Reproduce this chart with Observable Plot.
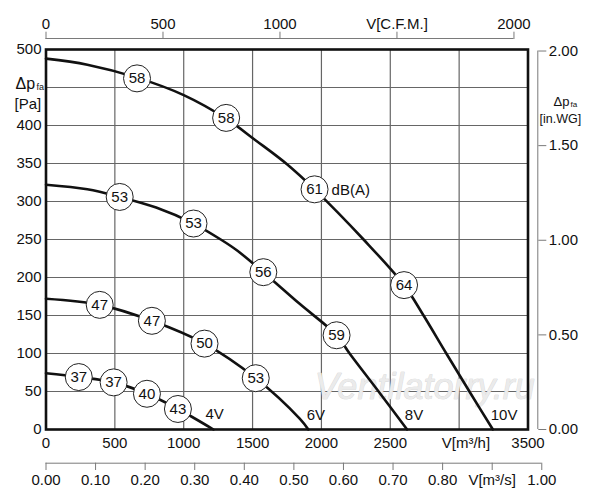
<!DOCTYPE html>
<html><head><meta charset="utf-8">
<script src="https://cdn.jsdelivr.net/npm/d3@7"></script>
<script src="https://cdn.jsdelivr.net/npm/@observablehq/plot@0.6"></script>
<style>body{margin:0;background:#fff}#chart svg{display:block}</style>
</head><body><div id="chart"></div>
<script>
// Fan curves: flow V [m³/h], static pressure Δp_fa [Pa]
const curve4V  = [[0,74],[238,69],[491,62],[733,47],[958,27],[1216,0]];
const curve6V  = [[0,172],[390,164],[769,143],[1151,113],[1523,67.5],[1844,14],[1905,0]];
const curve8V  = [[0,322],[300,316],[535,306],[800,292],[1071,271],[1269,250],[1388,235.5],[1578,207],[1844,165],[2110,124],[2206,99.6],[2419,49],[2622,0]];
const curve10V = [[0,488],[300,480],[661,463],[1000,440],[1308,409],[1526,380],[1750,349],[1950,316],[2306,250],[2600,190],[2735,152],[2907,100],[3078,49],[3245,0]];

// Noise levels dB(A) on curves
const noiseFlow  = [238,491,733,958, 390,769,1151,1523, 535,1071,1578,2110, 661,1308,1950,2600];
const noisePress = [69,62,47,27, 164,143,113,67.5, 306,271,207,124, 462,410,316,190];
const noiseDb    = ["37","37","40","43","47","47","50","53","53","53","56","59","58","58","61","64"];

// Curve name labels
const curveNames = ["4V","6V","8V","10V"];
const curveNameFlow = [1225,1960,2672,3326];
const curveNamePress = [19.7,18.4,18.4,18.4];

// Axis ticks
const xTicks = [0,500,1000,1500,2000,2500,3000,3500];
const yGrid = [0,50,100,150,200,250,300,350,400,450,500];
const yTickLabels = [0,50,100,150,200,250,300,350,400,500];
const cfmTicks = [0,500,1000,1500,2000];
const cfmLabels = ["0","500","1000","V[C.F.M.]","2000"];
const m3sTicks = [0,0.1,0.2,0.3,0.4,0.5,0.6,0.7,0.8,0.9,1.0];
const m3sLabels = ["0.00","0.10","0.20","0.30","0.40","0.50","0.60","0.70","0.80","V[m³/s]","1.00"];
const inwgTicks = [0,0.5,1.0,1.5,2.0];
const inwgLabels = ["0.00","0.50","1.00","1.50","2.00"];

const M3H_PER_CFM = 1.699, M3H_PER_M3S = 3600, PA_PER_INWG = 249;

const series = [];
[["4V",curve4V],["6V",curve6V],["8V",curve8V],["10V",curve10V]].forEach(([k,c]) =>
  c.forEach(([q,p]) => series.push({k,q,p})));
const noise = noiseDb.map((t,i)=>({q:noiseFlow[i],p:noisePress[i],t}));
const names = curveNames.map((t,i)=>({q:curveNameFlow[i],p:curveNamePress[i],t}));

const cfmMap = new Map(cfmTicks.map((c,i)=>[c*M3H_PER_CFM, cfmLabels[i]]));
const m3sMap = new Map(m3sTicks.map((c,i)=>[c*M3H_PER_M3S, m3sLabels[i]]));
const inwgMap = new Map(inwgTicks.map((c,i)=>[c*PA_PER_INWG, inwgLabels[i]]));

const gray = "#7a7a7a";
const chart = Plot.plot({
  width: 600, height: 500,
  marginLeft: 45.5, marginRight: 72.5, marginTop: 49, marginBottom: 71,
  style: {fontFamily: "'Liberation Sans', Arial, sans-serif", fontSize: "15px", color: "#111", background: "#fff"},
  x: {domain: [0,3500]},
  y: {domain: [0,500]},
  marks: [
    Plot.gridX(xTicks, {stroke: "#666", strokeOpacity: 1, strokeWidth: 1.2}),
    Plot.gridY(yGrid, {stroke: "#666", strokeOpacity: 1, strokeWidth: 1.2}),
    Plot.text([{q:2750,p:55,t:"Ventilatorry.ru"}], {x:"q", y:"p", text:"t", fontSize: 36, fontStyle: "italic",
      fill: "#ebebeb", stroke: "#cdcdcd", strokeWidth: 0.6}),
    // left Pa axis
    Plot.axisY(yTickLabels, {anchor: "left", tickSize: 0, tickPadding: 4.5, label: null, fontSize: 15, tickFormat: d=>String(d)}),
    // bottom m³/h axis
    Plot.axisX(xTicks.filter(d=>d!==3000), {anchor: "bottom", tickSize: 0, tickPadding: 7.5, label: null, fontSize: 15, tickFormat: d=>String(d)}),
    Plot.text([{q:3049,t:"V[m³/h]"}], {x:"q", text:"t", frameAnchor: "bottom", lineAnchor: "top", dy: 7.5, fontSize: 15}),
    // top CFM axis
    Plot.ruleY([{p:500}], {y:"p", x1: ()=>0, x2: ()=>2000*M3H_PER_CFM, dy: -11, stroke: gray, strokeWidth: 1}),
    Plot.axisX(cfmTicks.map(c=>c*M3H_PER_CFM), {anchor: "top", dy: -11, tickSize: 7.3, tickPadding: 2,
      tickFormat: d=>cfmMap.get(d), label: null, stroke: gray, fontSize: 15}),
    // bottom m³/s axis
    Plot.ruleY([{p:0}], {y:"p", x1: ()=>0, x2: ()=>1.0*M3H_PER_M3S, dy: 33.7, stroke: gray, strokeWidth: 1}),
    Plot.axisX(m3sTicks.map(c=>c*M3H_PER_M3S), {anchor: "bottom", dy: 33.7, tickSize: 7.3, tickPadding: 3.5,
      tickFormat: d=>m3sMap.get(d), label: null, stroke: gray, fontSize: 15}),
    // right in.WG axis
    Plot.ruleX([{q:3500}], {x:"q", y1: ()=>0, y2: ()=>2*PA_PER_INWG, dx: 9.8, stroke: gray, strokeWidth: 1}),
    Plot.axisY(inwgTicks.map(c=>c*PA_PER_INWG), {anchor: "right", dx: 9.8, tickSize: 8, tickPadding: 3,
      tickFormat: d=>inwgMap.get(d), label: null, stroke: gray, fontSize: 15}),
    // axis titles
    Plot.text(["Δp"], {frameAnchor: "top-left", textAnchor: "start", dx: -30.5, dy: 28, fontSize: 16}),
    Plot.text(["fa"], {frameAnchor: "top-left", textAnchor: "start", dx: -9.5, dy: 34, fontSize: 9}),
    Plot.text(["[Pa]"], {frameAnchor: "top-left", textAnchor: "start", dx: -31.5, dy: 48.5, fontSize: 15}),
    Plot.text(["Δp"], {frameAnchor: "top-right", textAnchor: "start", dx: 25.5, dy: 47, fontSize: 13}),
    Plot.text(["fa"], {frameAnchor: "top-right", textAnchor: "start", dx: 42.5, dy: 51.5, fontSize: 8}),
    Plot.text(["[in.WG]"], {frameAnchor: "top-right", textAnchor: "start", dx: 11.5, dy: 65, fontSize: 12.5}),
    // curves
    Plot.line(series, {x:"q", y:"p", z:"k", curve: "catmull-rom", stroke: "#111", strokeWidth: 2.6}),
    Plot.dot(noise, {x:"q", y:"p", r: 13.5, fill: "#fff", stroke: "#222", strokeWidth: 1}),
    Plot.text(noise, {x:"q", y:"p", text:"t", fontSize: 15, fill: "#111"}),
    Plot.text([{q:2074,p:315,t:"dB(A)"}], {x:"q", y:"p", text:"t", textAnchor: "start", fontSize: 15}),
    Plot.text(names, {x:"q", y:"p", text:"t", fontSize: 15}),
    Plot.frame({stroke: "#111", strokeWidth: 2.6})
  ]
});
document.getElementById("chart").appendChild(chart);
</script>
</body></html>
